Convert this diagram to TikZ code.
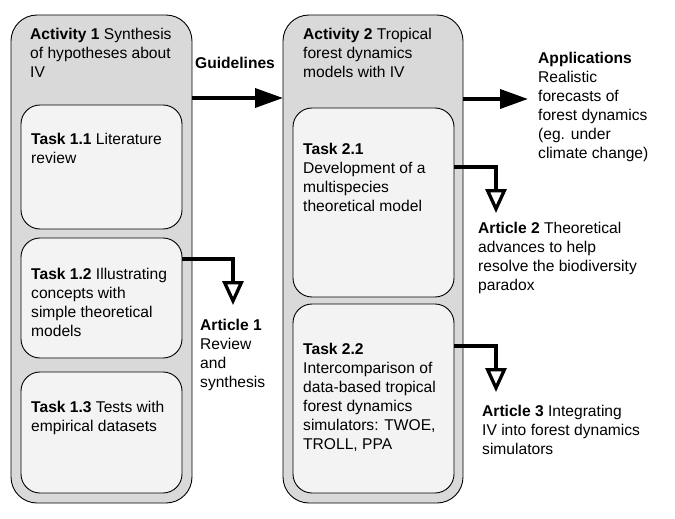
\documentclass[tikz,border=0pt]{standalone}
\usepackage{fontspec}
\setmainfont{Liberation Sans}
\usetikzlibrary{arrows.meta}
\definecolor{outerfill}{HTML}{D9D9D9}
\definecolor{innerfill}{HTML}{F3F3F3}
\begin{document}
\begin{tikzpicture}[x=1pt,y=-1pt,
  activitybox/.style={draw=black, line width=0.9pt, fill=outerfill, rounded corners=26pt, inner sep=0pt, outer sep=0pt},
  taskbox/.style={draw=black, line width=0.9pt, fill=innerfill, rounded corners=19pt, inner sep=0pt, outer sep=0pt},
  txt/.style={anchor=north west, inner sep=0pt, align=left, font=\fontsize{15.6}{19}\selectfont},
  mainarrow/.style={line width=3.6pt, -{Triangle[length=28pt,width=19pt]}},
  outarrow/.style={line width=3.3pt, -{Triangle[open,length=24pt,width=21pt]}}]
\useasboundingbox (0,0) rectangle (675,519);

% activity containers
\node[activitybox, minimum width=181pt, minimum height=488pt] (act1) at (101.5,259) {};
\node[activitybox, minimum width=180pt, minimum height=488pt] (act2) at (373,259) {};

% task boxes
\node[taskbox, minimum width=161pt, minimum height=124pt] (t11) at (101.5,167) {};
\node[taskbox, minimum width=161pt, minimum height=120pt] (t12) at (101.5,298) {};
\node[taskbox, minimum width=161pt, minimum height=121pt] (t13) at (101.5,432.5) {};
\node[taskbox, minimum width=161pt, minimum height=189pt] (t21) at (373.5,202.5) {};
\node[taskbox, minimum width=161pt, minimum height=189pt] (t22) at (373.5,398.5) {};

% texts
\node[txt] (a1txt) at (30,28) {\textbf{Activity 1} Synthesis\\of hypotheses about\\IV};
\node[txt] (t11txt) at (31,133) {\textbf{Task 1.1} Literature\\review};
\node[txt] (t12txt) at (31,268) {\textbf{Task 1.2} Illustrating\\concepts with\\simple theoretical\\models};
\node[txt] (t13txt) at (31,401) {\textbf{Task 1.3} Tests with\\empirical datasets};
\node[txt] (a2txt) at (303,28) {\textbf{Activity 2} Tropical\\forest dynamics\\models with IV};
\node[txt] (t21txt) at (303,143) {\textbf{Task 2.1}\\Development of a\\multispecies\\theoretical model};
\node[txt] (t22txt) at (303,343) {\textbf{Task 2.2}\\Intercomparison of\\data-based tropical\\forest dynamics\\simulators: TWOE,\\TROLL, PPA};
\node[font=\fontsize{15.6}{19}\selectfont\bfseries, inner sep=0pt] (guide) at (235,63) {Guidelines};
\node[txt] (apps) at (538,52) {\textbf{Applications}\\Realistic\\forecasts of\\forest dynamics\\(eg. under\\climate change)};
\node[txt] (art1) at (200,319) {\textbf{Article 1}\\Review\\and\\synthesis};
\node[txt] (art2) at (478,222) {\textbf{Article 2} Theoretical\\advances to help\\resolve the biodiversity\\paradox};
\node[txt] (art3) at (482,405) {\textbf{Article 3} Integrating\\IV into forest dynamics\\simulators};

% arrow ends above the article texts
\coordinate (art1tip) at (233,305);
\coordinate (art2tip) at (496,213);
\coordinate (art3tip) at (496,392);

% connectors
\draw[mainarrow] (act1.east |- 0,98) -- (act2.west |- 0,98);
\draw[mainarrow] (act2.east |- 0,99) -- (528,99) coordinate (appstip);
\draw[outarrow] (t12.east |- 0,259) -| (art1tip);
\draw[outarrow] (t21.east |- 0,167) -| (art2tip);
\draw[outarrow] (t22.east |- 0,346) -| (art3tip);
\end{tikzpicture}
\end{document}
